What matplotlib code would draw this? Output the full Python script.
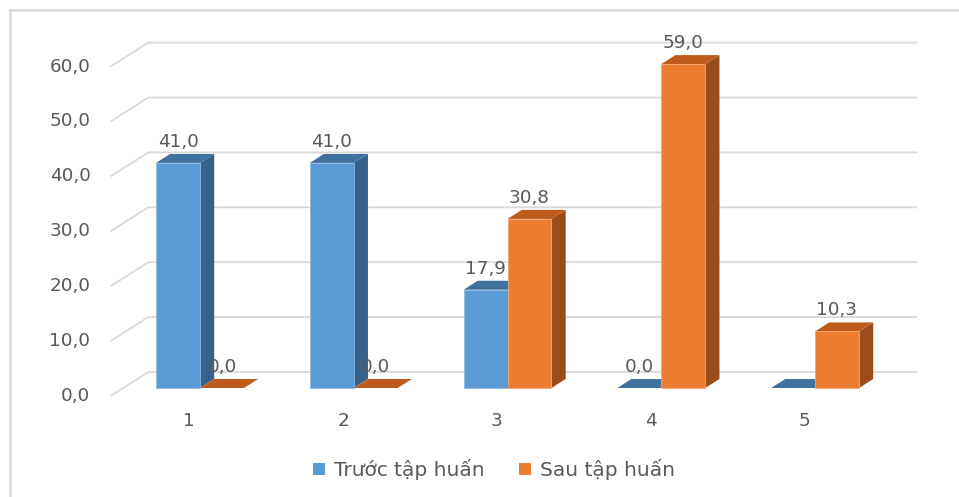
import matplotlib
matplotlib.use("Agg")
import matplotlib.pyplot as plt
from matplotlib.patches import Polygon, Patch
from matplotlib.lines import Line2D

# ---- data ----
categories = ["1", "2", "3", "4", "5"]
before = [41.0, 41.0, 17.9, 0.0, 0.0]      # Trước tập huấn
after = [0.0, 0.0, 30.8, 59.0, 10.3]       # Sau tập huấn
before_label_shown = [True, True, True, True, False]
after_label_shown = [True, True, True, True, True]
series_names = ["Trước tập huấn", "Sau tập huấn"]
y_ticks = [0, 10, 20, 30, 40, 50, 60]

# ---- style ----
W, H = 959, 497
PX = 153.75   # pixels per category
PY = 5.49     # pixels per value unit
X0, Y0 = 200, 388   # pixel position of (category 1, value 0) on bar front plane
GRID = "#d9d9d9"
TXT = "#595959"
blue = dict(front="#5b9bd5", top="#41729f", side="#386189", edge="#8cb8e3")
orange = dict(front="#ed7d31", top="#bf5c1c", side="#9a4c1b", edge="#f4a46f")
BAR_W = 0.286
BAR_D = 9      # depth of bars, px
WALL_FRONT, WALL_BACK = -8, 16
FS = 13.2
FS_LEG = 14.5

fig = plt.figure(figsize=(W / 100, H / 100), dpi=100)
ax = fig.add_axes([0, 0, 1, 1])
ax.axis("off")
ax.set_xlim(1 - X0 / PX, 1 + (W - X0) / PX)
ax.set_ylim((Y0 - H) / PY, Y0 / PY)


def dx(d):
    return 1.58 * d / PX


def dv(d):
    return d / PY


# walls / gridlines
n = len(categories)
xl, xr = 0.5, n + 0.5
for v in y_ticks:
    ax.plot([xl + dx(WALL_FRONT), xl + dx(WALL_BACK), xr + dx(WALL_BACK)],
            [v + dv(WALL_FRONT), v + dv(WALL_BACK), v + dv(WALL_BACK)],
            color=GRID, lw=1.3, solid_capstyle="butt", zorder=1)
    ax.text(xl + dx(WALL_FRONT) - 20 / PX, v + dv(WALL_FRONT),
            f"{v:.1f}".replace(".", ","), ha="right", va="center",
            fontsize=FS, color=TXT)

for i, c in enumerate(categories):
    ax.text(i + 1 + dx(WALL_FRONT) + 2 / PX, dv(WALL_FRONT) - 25.5 / PY, c,
            ha="center", va="center", fontsize=FS, color=TXT)


def bar3d(x0, x1, v, col, z):
    d_x, d_v = dx(BAR_D), dv(BAR_D)
    side = [(x1, 0), (x1, v), (x1 + d_x, v + d_v), (x1 + d_x, d_v)]
    top = [(x0, v), (x1, v), (x1 + d_x, v + d_v), (x0 + d_x, v + d_v)]
    front = [(x0, 0), (x1, 0), (x1, v), (x0, v)]
    ax.add_patch(Polygon(side, closed=True, fc=col["side"], ec="none", zorder=z))
    ax.add_patch(Polygon(top, closed=True, fc=col["top"], ec="none", zorder=z))
    if v > 0:
        ax.add_patch(Polygon(front, closed=True, fc=col["front"], ec=col["edge"],
                             lw=0.6, zorder=z))


for i in range(n):
    xc = i + 1
    bar3d(xc - BAR_W, xc, before[i], blue, 3)
    bar3d(xc, xc + BAR_W, after[i], orange, 4)
    if before_label_shown[i]:
        ax.text(xc - BAR_W / 2, before[i] + 21 / PY, f"{before[i]:.1f}".replace(".", ","),
                ha="center", va="center", fontsize=FS, color=TXT, zorder=6)
    if after_label_shown[i]:
        ax.text(xc + BAR_W / 2, after[i] + 21 / PY, f"{after[i]:.1f}".replace(".", ","),
                ha="center", va="center", fontsize=FS, color=TXT, zorder=6)

handles = [Patch(fc=blue["front"], ec="none"), Patch(fc=orange["front"], ec="none")]
ax.legend(handles, series_names, loc="center", bbox_to_anchor=(494 / W, 1 - 470 / H),
          ncol=2, frameon=False, fontsize=FS_LEG, handlelength=0.55, handleheight=0.55,
          handletextpad=0.45, columnspacing=1.75, labelcolor=TXT)

# outer frame (top and left edges visible)
fig.add_artist(Line2D([10 / W, 10 / W], [0, 1 - 10 / H], transform=fig.transFigure,
                      color=GRID, lw=1.8))
fig.add_artist(Line2D([10 / W, 1], [1 - 10 / H, 1 - 10 / H], transform=fig.transFigure,
                      color=GRID, lw=1.8))

fig.savefig("out.png", dpi=100)
